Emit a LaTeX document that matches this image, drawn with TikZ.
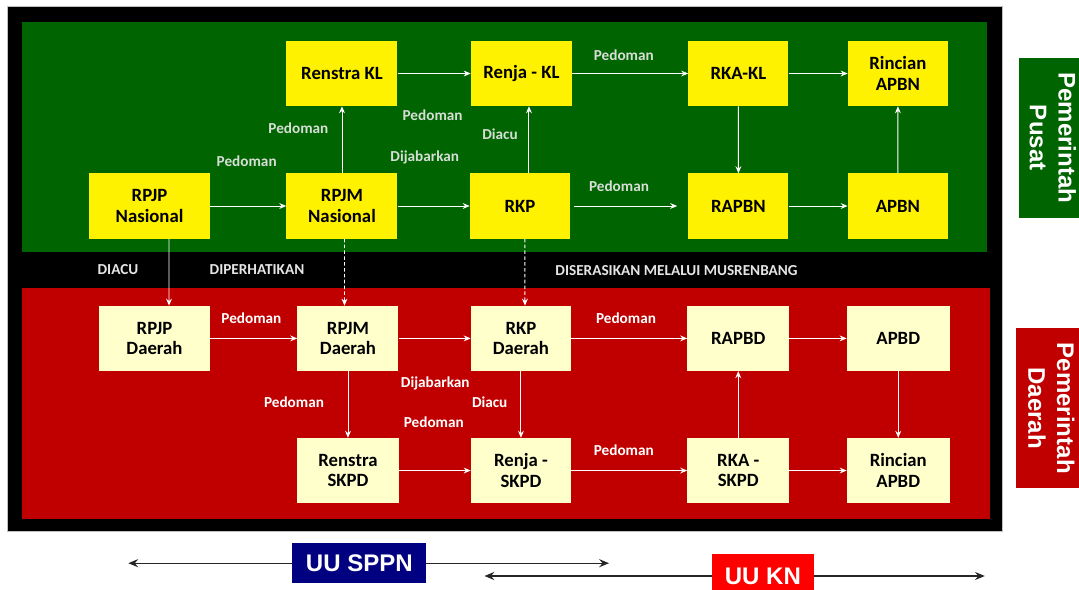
\documentclass[tikz,border=0pt]{standalone}
\usepackage{fontspec}
\setmainfont{Carlito}
\newfontfamily\arialfont{Liberation Sans}
\usetikzlibrary{arrows.meta}
\usetikzlibrary{positioning}
\usetikzlibrary{calc}

\definecolor{pusatgreen}{RGB}{0,100,0}
\definecolor{daerahred}{RGB}{192,0,0}
\definecolor{paleyellow}{RGB}{255,255,204}
\definecolor{sppnblue}{RGB}{0,0,128}
\definecolor{knred}{RGB}{255,0,0}
\definecolor{labelgrey}{RGB}{215,222,215}

\tikzset{
  % white connector inside the panels
  link/.style = {
    draw = white,
    line width = 0.8pt,
    -{Stealth[length=6pt,width=5pt,inset=2pt]}
  },
  % dashed connector between the two levels
  dlink/.style = {
    link,
    dash pattern = on 3pt off 2pt
  },
  % black arrow below the frame
  lawline/.style = {
    draw = black!85,
    line width = 0.9pt,
    -{Stealth[length=8.5pt,width=7pt,inset=3pt]}
  }
}
\tikzset {
  plan node/.style = {
    rectangle,
    minimum height = 1.95cm,
    inner sep = 0,
    align = center,
    font = \fontsize{16}{17.5}\selectfont\bfseries
  },
  % document of the central government
  pusat/.style = {
    plan node,
    fill = yellow
  },
  % document of the regional government
  daerah/.style = {
    plan node,
    fill = paleyellow
  },
  note/.style = {
    font = \fontsize{13}{15}\selectfont\bfseries,
    inner sep = 0
  },
  side/.style = {
    rotate = -90,
    align = center,
    inner sep = 0,
    text = white,
    font = \arialfont\fontsize{20.5}{24.7}\selectfont\bfseries
  },
  law/.style = {
    minimum width = 4.01cm,
    minimum height = 1.19cm,
    inner sep = 0,
    text = white,
    font = \arialfont\fontsize{20.5}{24}\selectfont\bfseries
  }
}

\begin{document}
\begin{tikzpicture}[x=0.03cm, y=-0.03cm]
    \useasboundingbox (0,0) rectangle (1079,590);
    \clip (0,0) rectangle (1079,590);

    % frame and panels
    \filldraw[fill=black, draw=gray!50, line width=0.5pt] (7,6) rectangle (1002,531);
    \fill[pusatgreen] (21.7,22.3) rectangle (986.6,252.3);
    \fill[daerahred] (21.7,288.3) rectangle (990,519);

    % central level
    \node[pusat, minimum width=3.63cm] (rpjpnas) at (149.5,206) {RPJP\\Nasional};
    \node[pusat, minimum width=3.33cm] (rpjmnas) [right=2.28cm of rpjpnas] {RPJM\\Nasional};
    \node[pusat, minimum width=3cm] (rkp) [right=2.16cm of rpjmnas] {RKP};
    \node[pusat, minimum width=3cm] (rapbn) [right=3.54cm of rkp] {RAPBN};
    \node[pusat, minimum width=3cm] (apbn) [right=1.77cm of rapbn] {APBN};
    \node[pusat, minimum width=3.33cm] (renstrakl) [above=2.01cm of rpjmnas] {Renstra KL};
    \node[pusat, minimum width=3.03cm] (renjakl) [right=2.19cm of renstrakl] {Renja - KL};
    \node[pusat, minimum width=3cm] (rkakl) [right=3.48cm of renjakl] {RKA-KL};
    \node[pusat, minimum width=3cm] (rincianapbn) [right=1.77cm of rkakl] {Rincian\\APBN};

    % regional level
    \node[daerah, minimum width=3.31cm] (rpjpdae) at (154.5,338.4) {RPJP\\Daerah};
    \node[daerah, minimum width=3.03cm] (rpjmdae) [right=2.62cm of rpjpdae] {RPJM\\Daerah};
    \node[daerah, minimum width=3cm] (rkpdae) [right=2.16cm of rpjmdae] {RKP\\Daerah};
    \node[daerah, minimum width=3.05cm] (rapbd) [right=3.48cm of rkpdae] {RAPBD};
    \node[daerah, minimum width=3.08cm] (apbd) [right=1.72cm of rapbd] {APBD};
    \node[daerah, minimum width=3.06cm] (renstraskpd) [below=2cm of rpjmdae] {Renstra\\SKPD};
    \node[daerah, minimum width=3cm] (renjaskpd) [below=2cm of rkpdae] {Renja -\\SKPD};
    \node[daerah, minimum width=3.05cm] (rkaskpd) [below=2cm of rapbd] {RKA -\\SKPD};
    \node[daerah, minimum width=3.08cm] (rincianapbd) [below=2cm of apbd] {Rincian\\APBD};

    % side labels
    \node[side, fill=pusatgreen, minimum width=4.8cm, minimum height=2.05cm] (pusatlabel) at (1052.8,137.7) {Pemerintah\\Pusat};
    \node[side, fill=daerahred, minimum width=4.8cm, minimum height=2.12cm] (daerahlabel) at (1051.3,408.3) {Pemerintah\\Daerah};

    % laws
    \node[law, fill=sppnblue] (sppn) at (359.3,563.2) {UU SPPN};
    \node[law, fill=knred, minimum width=3.07cm, minimum height=1.3cm] (kn) at (762.9,576) {UU KN};
    \coordinate (sppn-left) at (128.3,563.2);
    \coordinate (sppn-right) at (609,563.2);
    \coordinate (kn-left) at (484.5,576);
    \coordinate (kn-right) at (984.8,576);

    \draw[link] (rpjpnas) -- (rpjmnas);
    \draw[link] (rpjmnas) -- (rkp);
    \draw[link] (rpjmnas) -- (renstrakl);
    \draw[link] ($(rkp.north)+(.27cm,0)$) -- ($(renjakl.south)+(.225cm,0)$);
    \draw[link] (renstrakl) -- (renjakl);
    \draw[link] (renjakl) -- (rkakl);
    \draw[link] (rkakl) -- (rincianapbn);
    \draw[link, shorten <=.12cm, shorten >=.33cm] (rkp) -- (rapbn);
    \draw[link] (rapbn) -- (apbn);
    \draw[link] (rkakl) -- (rapbn);
    \draw[link] (apbn) -- (rincianapbn);

    \draw[link] ($(rpjpnas.south)+(.585cm,0)$) -- ($(rpjpdae.north)+(.435cm,0)$);
    \draw[dlink] ($(rpjmnas.south)+(.075cm,0)$) -- ($(rpjmdae.north)+(-.105cm,0)$);
    \draw[dlink] ($(rkp.south)+(.15cm,0)$) -- ($(rkpdae.north)+(.12cm,0)$);

    \draw[link] (rpjpdae) -- (rpjmdae);
    \draw[link] (rpjmdae) -- (rkpdae);
    \draw[link] (rkpdae) -- (rapbd);
    \draw[link] (rapbd) -- (apbd);
    \draw[link] (rpjmdae) -- (renstraskpd);
    \draw[link] (rkpdae) -- (renjaskpd);
    \draw[link] (renstraskpd) -- (renjaskpd);
    \draw[link] (renjaskpd) -- (rkaskpd);
    \draw[link] (rkaskpd) -- (rincianapbd);
    \draw[link] (rkaskpd) -- (rapbd);
    \draw[link] (apbd) -- (rincianapbd);

    \draw[lawline] (sppn) -- (sppn-left);
    \draw[lawline] (sppn) -- (sppn-right);
    \draw[lawline] (kn) -- (kn-left);
    \draw[lawline] (kn) -- (kn-right);

    % notes, central level
    \node[note, text=labelgrey] (nas-pedoman-a) at (246.7,161.3) {Pedoman};
    \node[note, text=labelgrey] (nas-pedoman-b) at (298.4,128) {Pedoman};
    \node[note, text=labelgrey] (nas-pedoman-c) at (432.6,115.7) {Pedoman};
    \node[note, text=labelgrey] (nas-dijabarkan) at (424.8,157.7) {Dijabarkan};
    \node[note, text=labelgrey] (nas-diacu) at (500,134) {Diacu};
    \node[note, text=labelgrey] (nas-pedoman-d) at (623.8,55.3) {Pedoman};
    \node[note, text=labelgrey] (nas-pedoman-e) at (619,186) {Pedoman};

    % notes, between levels
    \node[note, text=white!90!black] (band-diacu) at (118,270) {DIACU};
    \node[note, text=white!90!black] (band-diperhatikan) at (257,270) {DIPERHATIKAN};
    \node[note, text=white!90!black] (band-musrenbang) at (676.5,271) {DISERASIKAN MELALUI MUSRENBANG};

    % notes, regional level
    \node[note, text=white] (dae-pedoman-a) at (251.4,318.3) {Pedoman};
    \node[note, text=white] (dae-pedoman-b) at (294,402.3) {Pedoman};
    \node[note, text=white] (dae-dijabarkan) at (435.3,383) {Dijabarkan};
    \node[note, text=white] (dae-diacu) at (489.7,402.3) {Diacu};
    \node[note, text=white] (dae-pedoman-c) at (433.8,422.7) {Pedoman};
    \node[note, text=white] (dae-pedoman-d) at (626,318.3) {Pedoman};
    \node[note, text=white] (dae-pedoman-e) at (623.8,450) {Pedoman};
\end{tikzpicture}
\end{document}
